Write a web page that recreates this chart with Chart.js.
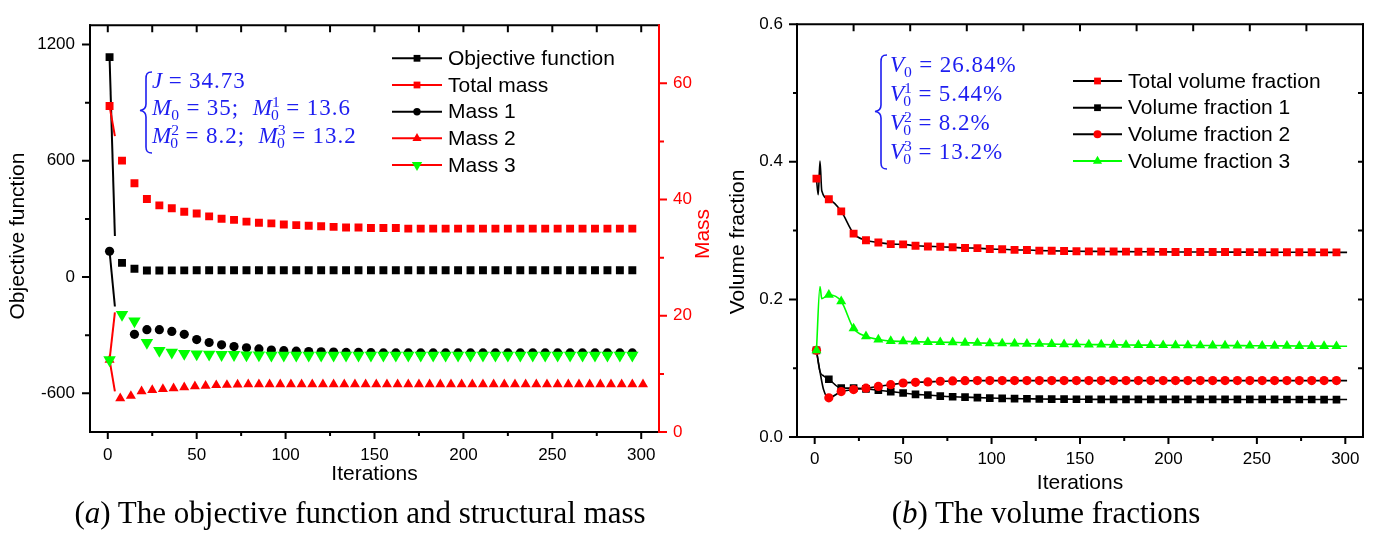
<!DOCTYPE html>
<html lang="en">
<head>
<meta charset="utf-8">
<title>Objective, mass and volume fraction histories</title>
<script src="https://cdn.jsdelivr.net/npm/chart.js@4.4.1/dist/chart.umd.min.js"></script>
<style>
  html, body { margin: 0; padding: 0; background: #fff; }
  body { position: relative; width: 1376px; height: 534px; overflow: hidden; }
  .panel { position: absolute; top: 0; height: 500px; }
  #panelA { left: 0; width: 720px; }
  #panelB { left: 720px; width: 656px; }
  .caption { position: absolute; top: 493px; font-family: "Liberation Serif", "Times New Roman", serif;
             font-size: 31px; line-height: 40px; white-space: nowrap; transform: translateX(-50%); color: #000; }
  .note { position: absolute; color: #1e1ef0; font-family: "Liberation Serif", "Times New Roman", serif;
          font-size: 23px; white-space: nowrap; }
  .note .row { position: absolute; left: 0; line-height: 23px; letter-spacing: 1px; }
  .note i { font-style: italic; letter-spacing: 0; }
  .note .eq { margin: 0 0.28em; }
  .note .sb { font-size: 0.68em; position: relative; top: 0.32em; }
  .note .sp { font-size: 0.68em; position: relative; top: -0.5em; }
  .note .st { margin-left: -0.62em; }
  .brace { position: absolute; overflow: visible; }
</style>
</head>
<body>
<div class="panel" id="panelA"><canvas id="chartA" width="720" height="500"></canvas></div>
<div class="panel" id="panelB"><canvas id="chartB" width="656" height="500"></canvas></div>

<!-- constraint summary, left panel -->
<svg class="brace" style="left:139px;top:71px" width="14" height="84">
  <path d="M13,1 C8,1 7,3 7,8 L7,33 C7,37 5,39 1,39.5 C5,40 7,42 7,46 L7,76 C7,80 8,82 13,82" fill="none" stroke="#1e1ef0" stroke-width="1.6"/>
</svg>
<div class="note" style="left:152px;top:0">
  <div class="row" style="top:69px"><i>J</i><span class="eq">=</span>34.73</div>
  <div class="row" style="top:96px"><i>M</i><span class="sb">0</span><span class="eq">=</span>35;&nbsp;&nbsp;<i>M</i><span class="sp">1</span><span class="sb st">0</span><span class="eq">=</span>13.6</div>
  <div class="row" style="top:124px"><i>M</i><span class="sp">2</span><span class="sb st">0</span><span class="eq">=</span>8.2;&nbsp;&nbsp;<i>M</i><span class="sp">3</span><span class="sb st">0</span><span class="eq">=</span>13.2</div>
</div>

<!-- constraint summary, right panel -->
<svg class="brace" style="left:874px;top:54px" width="14" height="118">
  <path d="M13,1 C8,1 7,3 7,8 L7,51 C7,55 5,57 1,57.5 C5,58 7,60 7,64 L7,109 C7,113 8,115 13,115" fill="none" stroke="#1e1ef0" stroke-width="1.6"/>
</svg>
<div class="note" style="left:890px;top:0">
  <div class="row" style="top:53px"><i>V</i><span class="sb">0</span><span class="eq">=</span>26.84%</div>
  <div class="row" style="top:82px"><i>V</i><span class="sp">1</span><span class="sb st">0</span><span class="eq">=</span>5.44%</div>
  <div class="row" style="top:111px"><i>V</i><span class="sp">2</span><span class="sb st">0</span><span class="eq">=</span>8.2%</div>
  <div class="row" style="top:140px"><i>V</i><span class="sp">3</span><span class="sb st">0</span><span class="eq">=</span>13.2%</div>
</div>

<div class="caption" style="left:360px">(<i>a</i>) The objective function and structural mass</div>
<div class="caption" style="left:1046px">(<i>b</i>) The volume fractions</div>

<script>
// ---------- left panel: objective function and masses ----------
const iterA = [1, 4, 8, 15, 22, 29, 36, 43, 50, 57, 64, 71, 78, 85, 92, 99, 106, 113, 120, 127, 134, 141,
  148, 155, 162, 169, 176, 183, 190, 197, 204, 211, 218, 225, 232, 239, 246, 253, 260, 267, 274, 281, 288, 295];

const objective = [1135, 212, 73, 43, 34, 34, 34.5, 34.5, 34.6, 34.6, 34.7, 34.7,
  34.73, 34.73, 34.73, 34.73, 34.73, 34.73, 34.73, 34.73,
  34.73, 34.73, 34.73, 34.73, 34.73, 34.73, 34.73, 34.73,
  34.73, 34.73, 34.73, 34.73, 34.73, 34.73, 34.73, 34.73,
  34.73, 34.73, 34.73, 34.73, 34.73, 34.73, 34.73, 34.73];

const totalMass = [56.1, 50.9, 46.7, 42.8, 40.1, 39.0, 38.5, 37.9, 37.6, 37.1, 36.7, 36.5, 36.2, 36.0,
  35.9, 35.7, 35.6, 35.5, 35.4, 35.3, 35.2, 35.2, 35.1, 35.1, 35.1,
  35.0, 35.0, 35.0, 35.0, 35.0, 35.0, 35.0, 35.0, 35.0, 35.0,
  35.0, 35.0, 35.0, 35.0, 35.0, 35.0, 35.0, 35.0, 35.0];

const mass1 = [31.1, 21.6, null, 16.8, 17.6, 17.6, 17.3, 16.8, 15.9, 15.4, 15.0, 14.7, 14.5, 14.3,
  14.1, 14.0, 13.9, 13.85, 13.8, 13.75, 13.7, 13.7, 13.65,
  13.6, 13.6, 13.6, 13.6, 13.6, 13.6, 13.6, 13.6, 13.6, 13.6,
  13.6, 13.6, 13.6, 13.6, 13.6, 13.6, 13.6, 13.6, 13.6, 13.6, 13.6];

const mass3 = [12.4, 20.6, 20.2, 19.1, 15.4, 14.0, 13.7, 13.5, 13.4, 13.35, 13.3, 13.3, 13.25, 13.25,
  13.2, 13.2, 13.2, 13.2, 13.2, 13.2, 13.2, 13.2, 13.2, 13.2,
  13.2, 13.2, 13.2, 13.2, 13.2, 13.2, 13.2, 13.2, 13.2, 13.2,
  13.2, 13.2, 13.2, 13.2, 13.2, 13.2, 13.2, 13.2, 13.2, 13.2];

const iterMass2 = [1, 4, 7, 13, 19, 25, 31, 37, 43, 49, 55, 61, 67, 73, 79, 85, 91, 97, 103, 109, 115, 121,
  127, 133, 139, 145, 151, 157, 163, 169, 175, 181, 187, 193, 199, 205, 211, 217, 223, 229, 235, 241,
  247, 253, 259, 265, 271, 277, 283, 289, 295, 301];

const mass2 = [12.4, 7.0, 5.8, 6.2, 7.0, 7.2, 7.4, 7.5, 7.7, 7.85, 7.95, 8.05, 8.1, 8.15,
  8.2, 8.2, 8.2, 8.2, 8.2, 8.2, 8.2, 8.2, 8.2, 8.2,
  8.2, 8.2, 8.2, 8.2, 8.2, 8.2, 8.2, 8.2, 8.2, 8.2,
  8.2, 8.2, 8.2, 8.2, 8.2, 8.2, 8.2, 8.2, 8.2, 8.2,
  8.2, 8.2, 8.2, 8.2, 8.2, 8.2, 8.2, 8.2];

// ---------- right panel: volume fractions ----------
const iterB = [1, 2, 3, 4, 5, 8, 15, 22, 29, 36, 43, 50, 57, 64, 71, 78, 85, 92, 99, 106, 113, 120, 127,
  134, 141, 148, 155, 162, 169, 176, 183, 190, 197, 204, 211, 218, 225, 232, 239, 246, 253, 260, 267,
  274, 281, 288, 295, 301];

const totalVolume = [0.3755, 0.352, 0.401, 0.358, null,
  0.3455, 0.328, 0.2956, 0.286, 0.2828, 0.2804, 0.2800, 0.2780, 0.2770, 0.2766,
  0.2757, 0.2747, 0.2745, 0.2733, 0.2728, 0.2720, 0.2718, 0.2709, 0.2706, 0.2703,
  0.2700, 0.2698, 0.2697, 0.2695, 0.2694, 0.2693, 0.2692, 0.2691, 0.2690, 0.2689,
  0.2689, 0.2688, 0.2688, 0.2687, 0.2687, 0.2686, 0.2686, 0.2685, 0.2685, 0.2685,
  0.2684, 0.2684, 0.2684];

const volume1 = [0.126, null, 0.095, null, 0.089,
  0.084, 0.071, 0.071, 0.070, 0.068, 0.066, 0.064, 0.062, 0.061, 0.0595,
  0.0585, 0.058, 0.0572, 0.0566, 0.0562, 0.0558, 0.0556, 0.0553, 0.0551, 0.0550,
  0.0549, 0.0548, 0.0547, 0.0547, 0.0547, 0.0547, 0.0547, 0.0547, 0.0547, 0.0547,
  0.0547, 0.0547, 0.0546, 0.0546, 0.0546, 0.0546, 0.0546, 0.0545, 0.0545, 0.0545,
  0.0544, 0.0544, 0.0544];

const volume2 = [0.126, null, 0.095, null, 0.069,
  0.057, 0.066, 0.069, 0.0710, 0.0735, 0.076, 0.0785, 0.0795, 0.080, 0.081,
  0.0815, 0.0818, 0.082, 0.082, 0.082, 0.082, 0.082, 0.082, 0.082, 0.082,
  0.082, 0.082, 0.082, 0.082, 0.082, 0.082, 0.082, 0.082, 0.082, 0.082,
  0.082, 0.082, 0.082, 0.082, 0.082, 0.082, 0.082, 0.082, 0.082, 0.082,
  0.082, 0.082, 0.082];

const volume3 = [0.126, null, 0.2187, 0.201, null,
  0.2067, 0.1973, 0.1578, 0.1464, 0.1417, 0.1393, 0.1390, 0.1385, 0.1380, 0.1378,
  0.1375, 0.1370, 0.1367, 0.1363, 0.1360, 0.1357, 0.1355, 0.1354, 0.1350, 0.1348,
  0.1346, 0.1344, 0.1342, 0.1340, 0.1338, 0.1336, 0.1335, 0.1334, 0.1333, 0.1332,
  0.1331, 0.1330, 0.1329, 0.1328, 0.1327, 0.1326, 0.1325, 0.1324, 0.1323, 0.1322,
  0.1321, 0.1320, 0.1320];

// ---------- axis ticks ----------
const iterMajor = [0, 50, 100, 150, 200, 250, 300];
const iterMinor = [25, 75, 125, 175, 225, 275];
const iterTopA = [0, 25, 50, 75, 100, 125, 150, 175, 200, 225, 250, 275, 300];
const iterTopB = [22, 54, 86, 118, 150, 182, 214, 246, 278];
const objMajor = [-600, 0, 600, 1200];
const objMinor = [-300, 300, 900];
const massMajor = [0, 20, 40, 60];
const massMinor = [10, 30, 50];
const vfMajor = [0, 0.2, 0.4, 0.6];
const vfMinor = [0.1, 0.3, 0.5];
const vfRight = [0.1, 0.2, 0.3, 0.4, 0.5];

// iterations that only shape the line (no symbol)
const lineOnlyA = [4];
const lineOnlyB = [2, 3, 4, 5, 301];

const FONT = "'Liberation Sans', Arial, Helvetica, sans-serif";
const BLACK = '#000000', RED = '#ff0000', GREEN = '#00ff00';

const pts = (iters, values) => iters.map((x, i) => ({ x, y: values[i] }));
const symbolSize = (r, skip) => c => (c.raw && skip.includes(c.raw.x)) ? 0 : r;
const firstSegmentOnly = color => ({ borderColor: c => (c.p1DataIndex <= 1 ? color : 'rgba(0,0,0,0)') });

function drawMarker(ctx, style, x, y, r, rot) {
  if (window.Chart && Chart.helpers && Chart.helpers.drawPoint) {
    Chart.helpers.drawPoint(ctx, { pointStyle: style, radius: r, rotation: rot, borderWidth: 0 }, x, y);
    return;
  }
  ctx.beginPath();
  if (style === 'circle') {
    ctx.arc(x, y, r, 0, Math.PI * 2);
  } else if (style === 'rect') {
    const s = r * Math.SQRT1_2;
    ctx.rect(x - s, y - s, 2 * s, 2 * s);
  } else {
    let a = rot * Math.PI / 180;
    ctx.moveTo(x + Math.sin(a) * r, y - Math.cos(a) * r);
    for (let k = 0; k < 2; k++) {
      a += 2 * Math.PI / 3;
      ctx.lineTo(x + Math.sin(a) * r, y - Math.cos(a) * r);
    }
    ctx.closePath();
  }
  ctx.fill();
}

// box frame with major/minor tick marks, positioned through the chart scales
function framePlugin(edges) {
  return {
    id: 'frame',
    afterDraw(chart) {
      const { ctx, chartArea: a, scales } = chart;
      ctx.save();
      ctx.lineWidth = 2;
      edges.forEach(e => {
        const horiz = e.side === 'top' || e.side === 'bottom';
        const pos = a[e.side];
        const out = (e.side === 'bottom' || e.side === 'right') ? 1 : -1;
        ctx.strokeStyle = e.color;
        ctx.beginPath();
        if (horiz) { ctx.moveTo(a.left - 1, pos); ctx.lineTo(a.right + 1, pos); }
        else { ctx.moveTo(pos, a.top - 1); ctx.lineTo(pos, a.bottom + 1); }
        const sc = scales[e.scale];
        e.marks.forEach(m => m.at.forEach(v => {
          const p = sc.getPixelForValue(v);
          const end = pos + out * m.dir * m.len;
          if (horiz) { ctx.moveTo(p, pos); ctx.lineTo(p, end); }
          else { ctx.moveTo(pos, p); ctx.lineTo(end, p); }
        }));
        ctx.stroke();
      });
      ctx.restore();
    }
  };
}

// vertical axis titles, reading bottom to top
function sideTitles(items) {
  return {
    id: 'sideTitles',
    afterDraw(chart) {
      const ctx = chart.ctx;
      ctx.save();
      ctx.font = '21px ' + FONT;
      ctx.textAlign = 'center';
      ctx.textBaseline = 'middle';
      items.forEach(t => {
        ctx.save();
        ctx.translate(t.x, t.y);
        ctx.rotate(-Math.PI / 2);
        ctx.fillStyle = t.color;
        ctx.fillText(t.text, 0, 0);
        ctx.restore();
      });
      ctx.restore();
    }
  };
}

// legend with line + symbol + label, built from the datasets
function seriesKey(k) {
  return {
    id: 'seriesKey',
    afterDraw(chart) {
      const ctx = chart.ctx;
      ctx.save();
      ctx.font = '21px ' + FONT;
      ctx.textAlign = 'left';
      ctx.textBaseline = 'middle';
      chart.data.datasets.forEach((ds, i) => {
        const y = k.rows[i];
        ctx.strokeStyle = ds.borderColor;
        ctx.lineWidth = 2;
        ctx.beginPath();
        ctx.moveTo(k.x0, y);
        ctx.lineTo(k.x1, y);
        ctx.stroke();
        ctx.fillStyle = ds.pointBackgroundColor;
        drawMarker(ctx, ds.pointStyle, (k.x0 + k.x1) / 2, y, k.sizes[i], ds.pointRotation || 0);
        ctx.fillStyle = '#000';
        ctx.fillText(ds.label, k.xt, y + 1);
      });
      ctx.restore();
    }
  };
}

const tickFont = { family: FONT, size: 17 };
const setTicks = list => s => { s.ticks = list.map(v => ({ value: v })); };

const common = {
  animation: false,
  responsive: false,
  events: [],
  plugins: { legend: { display: false }, tooltip: { enabled: false } },
  elements: { point: { borderWidth: 0, hoverRadius: 0 } }
};

const lineDefaults = { spanGaps: true, fill: false, pointBorderWidth: 0, pointHoverBorderWidth: 0,
                       pointBorderColor: 'rgba(0,0,0,0)' };

// ---------- chart (a) ----------
new Chart(document.getElementById('chartA'), {
  type: 'line',
  data: {
    datasets: [
      { label: 'Objective function', yAxisID: 'yObj', data: pts(iterA, objective),
        borderColor: BLACK, pointBackgroundColor: BLACK, pointStyle: 'rect',
        pointRadius: symbolSize(5.6, lineOnlyA), segment: firstSegmentOnly(BLACK), order: 4 },
      { label: 'Total mass', yAxisID: 'yMass', data: pts(iterA, totalMass),
        borderColor: RED, pointBackgroundColor: RED, pointStyle: 'rect',
        pointRadius: symbolSize(5.6, lineOnlyA), segment: firstSegmentOnly(RED), order: 3 },
      { label: 'Mass 1', yAxisID: 'yMass', data: pts(iterA, mass1),
        borderColor: BLACK, pointBackgroundColor: BLACK, pointStyle: 'circle',
        pointRadius: symbolSize(4.6, lineOnlyA), segment: firstSegmentOnly(BLACK), order: 2 },
      { label: 'Mass 2', yAxisID: 'yMass', data: pts(iterMass2, mass2),
        borderColor: RED, pointBackgroundColor: RED, pointStyle: 'triangle',
        pointRadius: symbolSize(5.8, lineOnlyA), segment: firstSegmentOnly(RED), order: 1 },
      { label: 'Mass 3', yAxisID: 'yMass', data: pts(iterA, mass3),
        borderColor: RED, pointBackgroundColor: GREEN, pointStyle: 'triangle', pointRotation: 180,
        pointRadius: symbolSize(7.2, lineOnlyA), segment: firstSegmentOnly(RED), order: 0 }
    ].map(d => Object.assign({ borderWidth: 2, tension: 0 }, lineDefaults, d))
  },
  options: Object.assign({}, common, {
    layout: { padding: { top: 8, left: 0, right: 0, bottom: 0 } },
    scales: {
      x: {
        type: 'linear', min: -10, max: 310,
        grid: { display: false, drawTicks: false }, border: { display: false },
        afterBuildTicks: setTicks(iterMajor), afterFit: s => { s.height = 68; },
        ticks: { font: tickFont, color: BLACK, padding: 13, maxRotation: 0, autoSkip: false },
        title: { display: true, text: 'Iterations', color: BLACK, font: { family: FONT, size: 21 },
                 padding: { top: 0, bottom: 13 } }
      },
      yObj: {
        type: 'linear', position: 'left', min: -800, max: 1300,
        grid: { display: false, drawTicks: false }, border: { display: false },
        afterBuildTicks: setTicks(objMajor), afterFit: s => { s.width = 90; },
        ticks: { font: tickFont, color: BLACK, padding: 15, autoSkip: false, callback: v => String(v) }
      },
      yMass: {
        type: 'linear', position: 'right', min: 0, max: 70,
        grid: { display: false, drawTicks: false }, border: { display: false },
        afterBuildTicks: setTicks(massMajor), afterFit: s => { s.width = 61; },
        ticks: { font: tickFont, color: RED, padding: 14, autoSkip: false, callback: v => String(v) }
      }
    }
  }),
  plugins: [
    framePlugin([
      { side: 'top', scale: 'x', color: BLACK, marks: [{ at: iterTopA, len: 7, dir: -1 }] },
      { side: 'left', scale: 'yObj', color: BLACK,
        marks: [{ at: objMajor, len: 8, dir: 1 }, { at: objMinor, len: 5, dir: 1 }] },
      { side: 'bottom', scale: 'x', color: BLACK,
        marks: [{ at: iterMajor, len: 7, dir: 1 }, { at: iterMinor, len: 4, dir: 1 }] },
      { side: 'right', scale: 'yMass', color: RED,
        marks: [{ at: massMajor, len: 8, dir: 1 }, { at: massMinor, len: 5, dir: 1 }] }
    ]),
    sideTitles([
      { text: 'Objective function', x: 18.5, y: 236, color: BLACK },
      { text: 'Mass', x: 703, y: 234, color: RED }
    ]),
    seriesKey({ x0: 392, x1: 442, xt: 448, rows: [58.3, 85, 111.7, 138.3, 165], sizes: [4.8, 4.8, 3.7, 5.3, 6] })
  ]
});

// ---------- chart (b) ----------
new Chart(document.getElementById('chartB'), {
  type: 'line',
  data: {
    datasets: [
      { label: 'Total volume fraction', data: pts(iterB, totalVolume),
        borderColor: BLACK, pointBackgroundColor: RED, pointStyle: 'rect',
        pointRadius: symbolSize(5.6, lineOnlyB), order: 3 },
      { label: 'Volume fraction 1', data: pts(iterB, volume1),
        borderColor: BLACK, pointBackgroundColor: BLACK, pointStyle: 'rect',
        pointRadius: symbolSize(5.4, lineOnlyB), order: 2 },
      { label: 'Volume fraction 2', data: pts(iterB, volume2),
        borderColor: BLACK, pointBackgroundColor: RED, pointStyle: 'circle',
        pointRadius: symbolSize(4.6, lineOnlyB), order: 1 },
      { label: 'Volume fraction 3', data: pts(iterB, volume3),
        borderColor: GREEN, pointBackgroundColor: GREEN, pointStyle: 'triangle',
        pointRadius: symbolSize(5.8, lineOnlyB), order: 0 }
    ].map(d => Object.assign({ borderWidth: 1.6, cubicInterpolationMode: 'monotone' }, lineDefaults, d))
  },
  options: Object.assign({}, common, {
    layout: { padding: { top: 16, left: 0, right: 13, bottom: 0 } },
    scales: {
      x: {
        type: 'linear', min: -10, max: 310,
        grid: { display: false, drawTicks: false }, border: { display: false },
        afterBuildTicks: setTicks(iterMajor), afterFit: s => { s.height = 63; },
        ticks: { font: tickFont, color: BLACK, padding: 12, maxRotation: 0, autoSkip: false },
        title: { display: true, text: 'Iterations', color: BLACK, font: { family: FONT, size: 21 },
                 padding: { top: 0, bottom: 4 } }
      },
      y: {
        type: 'linear', position: 'left', min: 0, max: 0.6,
        grid: { display: false, drawTicks: false }, border: { display: false },
        afterBuildTicks: setTicks(vfMajor), afterFit: s => { s.width = 77; },
        ticks: { font: tickFont, color: BLACK, padding: 14, autoSkip: false, callback: v => v.toFixed(1) }
      }
    }
  }),
  plugins: [
    framePlugin([
      { side: 'top', scale: 'x', color: BLACK, marks: [{ at: iterTopB, len: 7, dir: -1 }] },
      { side: 'left', scale: 'y', color: BLACK,
        marks: [{ at: vfMajor, len: 8, dir: 1 }, { at: vfMinor, len: 4, dir: 1 }] },
      { side: 'bottom', scale: 'x', color: BLACK,
        marks: [{ at: iterMajor, len: 7, dir: 1 }, { at: iterMinor, len: 4, dir: 1 }] },
      { side: 'right', scale: 'y', color: BLACK, marks: [{ at: vfRight, len: 5, dir: -1 }] }
    ]),
    sideTitles([{ text: 'Volume fraction', x: 18, y: 242, color: BLACK }]),
    seriesKey({ x0: 353, x1: 402, xt: 408, rows: [81, 107.7, 134.3, 161], sizes: [4.8, 4.8, 4, 5.3] })
  ]
});
</script>
</body>
</html>
